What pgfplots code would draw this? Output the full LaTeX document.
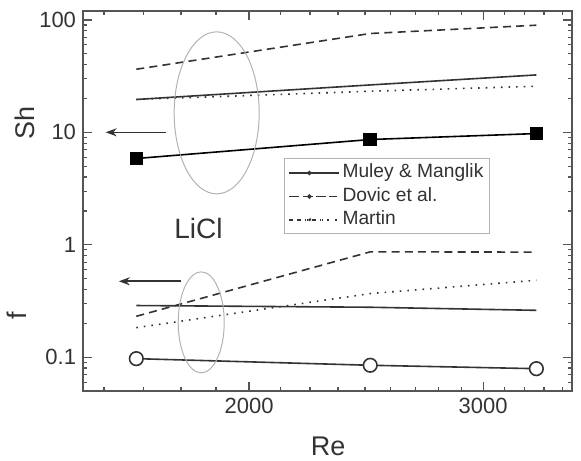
\documentclass[border=0pt]{standalone}
\usepackage{fontspec}
\setmainfont{Liberation Sans}
\usepackage{pgfplots}
\pgfplotsset{compat=1.18}
\usetikzlibrary{arrows.meta}
\definecolor{ink}{HTML}{333333}
\definecolor{frame}{HTML}{555555}
\begin{document}
\begin{tikzpicture}
\begin{axis}[
  scale only axis, width=244.5pt, height=190pt,
  xmode=log, ymode=log,
  xmin=1500, xmax=3500, ymin=0.05, ymax=120,
  xtick={2000,3000}, xticklabels={2000,3000},
  minor xtick={1555.6,1666.7,1777.8,1888.9,2111.1,2222.2,2333.3,2444.4,2555.6,2666.7,2777.8,2888.9,3111.1,3222.2,3333.3,3444.4},
  ytick={0.1,1,10,100}, yticklabels={0.1,1,10,100},
  minor ytick={0.06,0.07,0.08,0.09,0.2,0.3,0.4,0.5,0.6,0.7,0.8,0.9,2,3,4,5,6,7,8,9,20,30,40,50,60,70,80,90},
  tick align=inside, tick pos=both,
  major tick length=4.3pt, minor tick length=2.2pt,
  axis line style={frame, line width=0.8pt},
  every tick/.style={frame, line width=0.6pt},
  tick label style={font=\fontsize{11}{11}\selectfont, text=ink},
  clip=false,
  legend style={at={(0.411,0.612)}, anchor=north west, draw=gray!60, line width=0.5pt,
    font=\fontsize{9.6}{11}\selectfont, text=ink, inner xsep=2pt, inner ysep=1.5pt, row sep=0.6pt,
    nodes={inner sep=1.2pt, text height=6.8pt, text depth=1.9pt},
    cells={anchor=west}},
  legend image code/.code={\draw[#1] (1pt,0pt) -- (19pt,0pt); \fill[ink] (10pt,0pt) circle (0.7pt); \path (0pt,0pt) -- (25pt,0pt);},
]
% Sh
\addplot[ink, line width=0.8pt] coordinates {(1645,19.6) (2467,26.4) (3290,32.4)};
\addlegendentry{Muley \& Manglik}
\addplot[ink, line width=0.8pt, dash pattern=on 4pt off 2.6pt] coordinates {(1645,36.4) (2467,75.7) (3290,89.7)};
\addlegendentry{Dovic et al.}
\addplot[ink, line width=0.8pt, dash pattern=on 0.8pt off 3pt] coordinates {(1645,19.6) (2467,23.2) (3290,25.7)};
\addlegendentry{Martin}
\addplot[black, line width=0.8pt, mark=square*, mark size=3pt, mark options={solid, fill=black}, forget plot] coordinates {(1645,5.85) (2467,8.63) (3290,9.75)};
% f
\addplot[ink, line width=0.8pt, forget plot] coordinates {(1645,0.288) (2467,0.278) (3290,0.261)};
\addplot[ink, line width=0.8pt, dash pattern=on 4pt off 2.6pt, forget plot] coordinates {(1645,0.231) (2467,0.865) (3290,0.86)};
\addplot[ink, line width=0.8pt, dash pattern=on 0.8pt off 3pt, forget plot] coordinates {(1645,0.183) (2467,0.368) (3290,0.483)};
\addplot[ink, line width=0.8pt, mark=*, mark size=3.4pt, mark options={solid, fill=white, draw=ink}, forget plot] coordinates {(1645,0.097) (2467,0.0847) (3290,0.079)};
% annotations
\draw[gray!60, line width=0.5pt] (axis cs:1891,14.9) ellipse [x radius=21.25pt, y radius=40.5pt];
\draw[gray!60, line width=0.5pt] (axis cs:1841,0.204) ellipse [x radius=11.5pt, y radius=25.25pt];
\draw[ink, line width=0.8pt, -{Stealth[length=5.5pt,width=4pt]}] (axis cs:1731,10) -- (axis cs:1560,10);
\draw[ink, line width=0.8pt, -{Stealth[length=5.5pt,width=4pt]}] (axis cs:1778,0.473) -- (axis cs:1596,0.473);
\node[ink, font=\fontsize{14}{14}\selectfont] at (axis cs:1832,1.39) {LiCl};
\node[ink, font=\fontsize{13.5}{13.5}\selectfont, rotate=90] at ([xshift=-29pt]rel axis cs:0,0.705) {Sh};
\node[ink, font=\fontsize{13.5}{13.5}\selectfont, rotate=90] at ([xshift=-33pt]rel axis cs:0,0.197) {f};
\node[ink, font=\fontsize{13.5}{13.5}\selectfont, anchor=base, inner sep=0pt] at ([yshift=-32pt]rel axis cs:0.501,0) {Re};
\end{axis}
\pgfresetboundingbox
\path (-41.5pt,-34.5pt) rectangle (249pt,195.5pt);
\end{tikzpicture}
\end{document}
